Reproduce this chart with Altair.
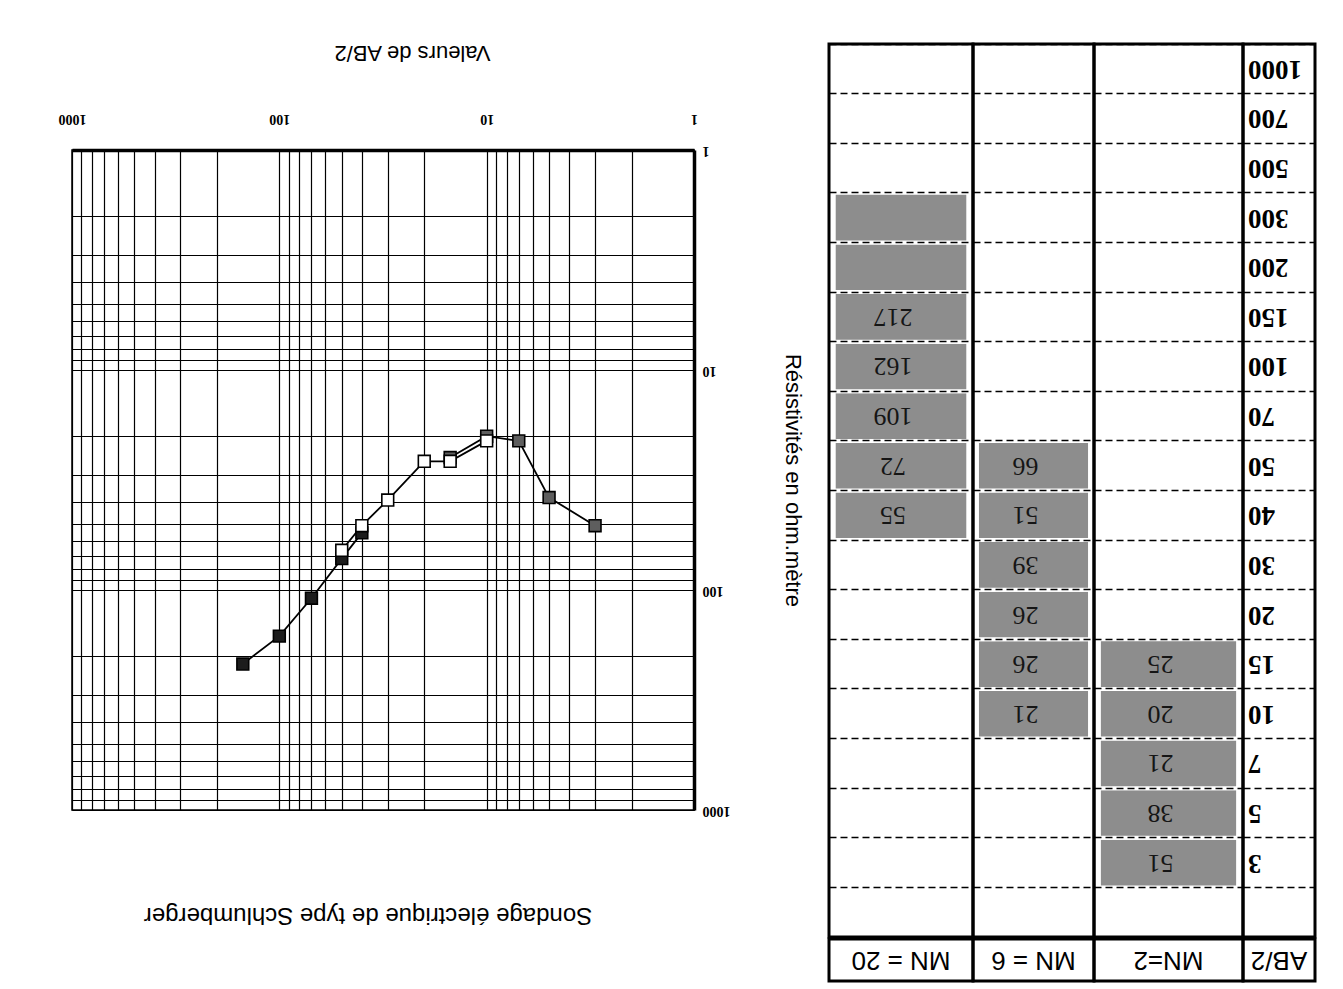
import altair as alt
import pandas as pd

# ---------------- data ----------------
MN2_AB2 = [3, 5, 7, 10, 15]
MN2_RHO = [51, 38, 21, 20, 25]
MN6_AB2 = [10, 15, 20, 30, 40, 50]
MN6_RHO = [21, 26, 26, 39, 51, 66]
MN20_AB2 = [40, 50, 70, 100, 150]
MN20_RHO = [55, 72, 109, 162, 217]
MN20_EMPTY_SHADED = [200, 300]

TABLE_AB2 = [1000, 700, 500, 300, 200, 150, 100, 70, 50, 40, 30, 20, 15, 10, 7, 5, 3]
HEADERS = ["MN = 20", "MN = 6", "MN=2", "AB/2"]
SERIES = ["MN = 20", "MN=2", "MN = 6"]

GRID_MULT = [1, 2, 3, 4, 5, 6, 7, 8, 9]
DECADES = [1, 10, 100, 1000]

TITLE = "Sondage électrique de type Schlumberger"
X_TITLE = "Valeurs de AB/2"
Y_TITLE = "Résistivités en ohm.mètre"

# ---------------- plot ----------------
grid_values = [m * d for d in DECADES[:3] for m in GRID_MULT] + [DECADES[-1]]
label_expr = "indexof([1, 10, 100, 1000], datum.value) >= 0 ? '' + datum.value : ''"

recs = []
for ab, r in zip(MN20_AB2, MN20_RHO):
    recs.append({"series": "MN = 20", "ab2": ab, "rho": r, "z": 0})
for ab, r in zip(MN2_AB2, MN2_RHO):
    recs.append({"series": "MN=2", "ab2": ab, "rho": r, "z": 1})
for ab, r in zip(MN6_AB2, MN6_RHO):
    recs.append({"series": "MN = 6", "ab2": ab, "rho": r, "z": 2})
pts = pd.DataFrame(recs)

PLOT_W = 622
PLOT_H = 660

x_enc = alt.X(
    "ab2:Q",
    scale=alt.Scale(type="log", domain=[1, 1000], reverse=True, nice=False),
    axis=alt.Axis(
        orient="top", values=grid_values, labelExpr=label_expr,
        title=X_TITLE, titleAngle=180, titleBaseline="top", titleAlign="center",
        titleX=PLOT_W / 2 + 29, titleY=-88,
        titleFont="Liberation Sans", titleFontSize=22, titleFontWeight="normal",
        titleColor="black",
        labelAngle=180, labelBaseline="top", labelAlign="center",
        labelFont="Liberation Serif", labelFontWeight="bold", labelFontSize=14,
        labelColor="black", labelPadding=25, labelOverlap=False, labelFlush=False,
        grid=True, gridColor="black", gridOpacity=1, gridWidth=1.2,
        domain=True, domainColor="black", domainWidth=3.5, ticks=False,
    ),
)
y_enc = alt.Y(
    "rho:Q",
    scale=alt.Scale(type="log", domain=[1, 1000], reverse=True, nice=False),
    axis=alt.Axis(
        orient="right", values=grid_values, labelExpr=label_expr,
        title=Y_TITLE, titleAngle=90,
        titleFont="Liberation Sans", titleFontSize=22, titleFontWeight="normal",
        titleColor="black", titlePadding=50,
        labelAngle=180, labelBaseline="middle", labelAlign="right",
        labelFont="Liberation Serif", labelFontWeight="bold", labelFontSize=14,
        labelColor="black", labelPadding=8, labelOverlap=False, labelFlush=False,
        grid=True, gridColor="black", gridOpacity=1, gridWidth=1.2,
        domain=True, domainColor="black", domainWidth=3.5, ticks=False,
    ),
)

base = alt.Chart(pts)
lines = base.mark_line(color="black", strokeWidth=1.8).encode(
    x=x_enc, y=y_enc, detail="series:N"
)
points = base.mark_point(
    shape="square", filled=True, size=140, stroke="black", strokeWidth=1.6,
    opacity=1, fillOpacity=1,
).encode(
    x=x_enc, y=y_enc,
    fill=alt.Fill("series:N", scale=alt.Scale(domain=SERIES, range=["#1c1c1c", "#5e5e5e", "#ffffff"]), legend=None),
    order=alt.Order("z:Q"),
)

plot = alt.layer(lines, points).properties(
    width=PLOT_W, height=PLOT_H,
    view=alt.ViewBackground(stroke="black", strokeWidth=1.5),
    title=alt.TitleParams(
        text=TITLE, orient="bottom", angle=180, baseline="bottom",
        font="Liberation Sans", fontSize=24, fontWeight="normal", color="black",
        offset=86, anchor="middle", dx=15,
    ),
)


def spacer(h):
    # invisible block: the row is aligned on the top of each column
    return alt.Chart(pd.DataFrame({"s": [0]})).mark_point(opacity=0).properties(
        width=1, height=h,
        view=alt.ViewBackground(stroke="transparent", strokeWidth=0),
    )


plot_col = alt.vconcat(spacer(1), plot, spacing=0)

# ---------------- table ----------------
ROW_KEYS = [str(v) for v in TABLE_AB2] + [" "]
COL_WIDTHS = {"MN = 20": 144, "MN = 6": 121, "MN=2": 149, "AB/2": 72}
BODY_H = 893
HEAD_H = 42

col_values = {
    "MN=2": {str(a): str(r) for a, r in zip(MN2_AB2, MN2_RHO)},
    "MN = 6": {str(a): str(r) for a, r in zip(MN6_AB2, MN6_RHO)},
    "MN = 20": {**{str(a): str(r) for a, r in zip(MN20_AB2, MN20_RHO)},
                **{str(a): "" for a in MN20_EMPTY_SHADED}},
}

row_axis = alt.Axis(
    labels=False, ticks=False, domain=False, title=None,
    grid=True, gridDash=[7, 4], gridColor="black", gridWidth=1.6, gridOpacity=1,
    bandPosition=0, zindex=1,
)


def y_rows():
    return alt.Y("row:N", sort=ROW_KEYS,
                 scale=alt.Scale(type="band", domain=ROW_KEYS, paddingInner=0, paddingOuter=0),
                 axis=row_axis)


cell_x = alt.Scale(domain=[-0.035, 1.035], nice=False, zero=False)

bodies = []
heads = []
for name in HEADERS:
    w = COL_WIDTHS[name]
    layers = []
    if name == "AB/2":
        tdf = pd.DataFrame({"row": ROW_KEYS[:-1], "text": ROW_KEYS[:-1]})
        layers.append(
            alt.Chart(tdf).mark_text(
                angle=180, align="right", baseline="middle", dx=w / 2 - 5,
                font="Liberation Serif", fontWeight="bold", fontSize=27, color="black",
            ).encode(y=y_rows(), text="text:N")
        )
    else:
        vals = col_values[name]
        sdf = pd.DataFrame({"row": list(vals.keys()), "x0": 0.0, "x1": 1.0})
        tdf = pd.DataFrame({"row": [k for k, v in vals.items() if v],
                            "text": [v for v in vals.values() if v]})
        layers.append(
            alt.Chart(sdf).mark_rect(fill="#8d8d8d", stroke="white", strokeWidth=4).encode(
                y=y_rows(),
                x=alt.X("x0:Q", scale=cell_x, axis=None),
                x2="x1:Q",
            )
        )
        layers.append(
            alt.Chart(tdf).mark_text(
                angle=180, align="center", baseline="middle", dx=8,
                font="Liberation Serif", fontSize=26, color="#151515",
            ).encode(y=y_rows(), text="text:N")
        )
    bodies.append(
        alt.layer(*layers).properties(
            width=w, height=BODY_H,
            view=alt.ViewBackground(stroke="black", strokeWidth=3),
        )
    )
    heads.append(
        alt.Chart(pd.DataFrame({"h": [name]})).mark_text(
            angle=180, align="center", baseline="middle",
            font="Liberation Sans", fontSize=26, color="black",
        ).encode(text="h:N").properties(
            width=w, height=HEAD_H,
            view=alt.ViewBackground(stroke="black", strokeWidth=3),
        )
    )

table_body = alt.hconcat(*bodies, spacing=0, bounds="flush")
table_head = alt.hconcat(*heads, spacing=0, bounds="flush")
table = alt.vconcat(
    spacer(6),
    alt.vconcat(table_body, table_head, spacing=-3),
    spacing=0,
)

chart = alt.hconcat(plot_col, table, spacing=22).properties(
    padding={"left": 49, "top": 25, "right": 5, "bottom": 2},
    background="white",
)

chart.save("out.html", embed_options={"renderer": "svg", "actions": False})
